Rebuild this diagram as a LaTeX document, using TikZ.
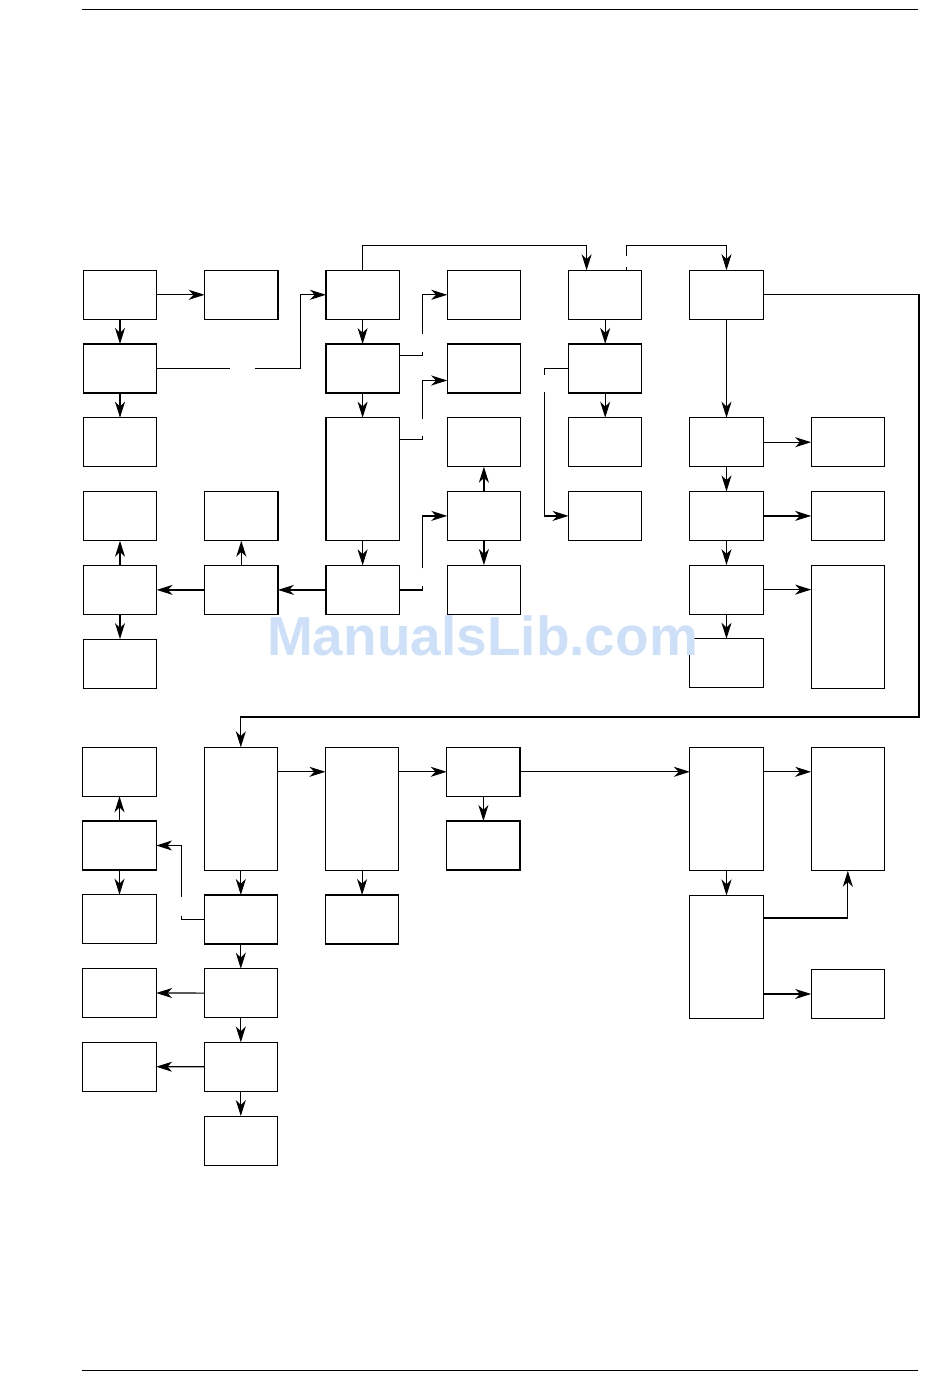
\documentclass[tikz,border=0pt]{standalone}
\usepackage{fontspec}
\newfontfamily\wmfont{Liberation Sans}
\usetikzlibrary{arrows.meta, calc, positioning}
\definecolor{wmblue}{RGB}{205,224,248}

\begin{document}
\begin{tikzpicture}[x=0.5pt, y=-0.5pt, node distance=12.35pt and 24pt,
    block/.style={rectangle, draw, line width=0.6pt, minimum width=36.65pt, minimum height=24.5pt, inner sep=0pt, outer sep=0pt},
    tallblock/.style={block, minimum height=61.5pt},
    link/.style={line width=0.6pt},
    arrow/.style={->, >={Stealth[length=8pt, width=5pt, inset=2.4pt]}, line width=0.6pt}]

    \useasboundingbox (0,0) rectangle (950,1379);

    % page rules
    \draw[link] (82,9.5) -- (918,9.5);
    \draw[link] (82,1370.5) -- (918,1370.5);

    % upper part
    \node[block] (b11) at (120,294.8) {};
    \node[block, right=of b11] (b12) {};
    \node[block, below=of b11] (b21) {};
    \node[block, below=of b21] (b31) {};
    \node[block, right=of b12] (b13) {};
    \node[block, below=of b13] (b23) {};
    \node[tallblock, below=of b23] (b33) {};
    \node[block, below=of b33] (b53) {};
    \node[block, left=of b53] (b52) {};
    \node[block, left=of b52] (b51) {};
    \node[block, above=of b52] (b42) {};
    \node[block, above=of b51] (b41) {};
    \node[block, below=of b51] (b61) {};
    \node[block, right=of b13] (b14) {};
    \node[block, below=of b14] (b24) {};
    \node[block, below=of b24] (b34) {};
    \node[block, below=of b34] (b44) {};
    \node[block, below=of b44] (b54) {};
    \node[block, right=of b14] (b15) {};
    \node[block, below=of b15] (b25) {};
    \node[block, below=of b25] (b35) {};
    \node[block, below=of b35] (b45) {};
    \node[block, right=of b15] (b16) {};
    \node[block, right=of b35] (b36) {};
    \node[block, below=of b36] (b46) {};
    \node[block, below=of b46] (b56) {};
    \node[block, below=of b56] (b66) {};
    \node[block, right=of b36] (b37) {};
    \node[block, right=of b46] (b47) {};
    \node[tallblock, below=of b47] (b57) {};

    % lower part
    \node[tallblock] (l12) at (240.8,808.8) {};
    \node[block, left=of l12.north west, anchor=north east] (l11) {};
    \node[block, below=of l11] (l21) {};
    \node[block, below=of l21] (l31) {};
    \node[block, below=of l31] (l41) {};
    \node[block, below=of l41] (l51) {};
    \node[block, below=of l12] (l32) {};
    \node[block, below=of l32] (l42) {};
    \node[block, below=of l42] (l52) {};
    \node[block, below=of l52] (l62) {};
    \node[tallblock, right=of l12] (l13) {};
    \node[block, below=of l13] (l33) {};
    \node[block, right=of l13.north east, anchor=north west] (l14) {};
    \node[block, below=of l14] (l24) {};
    \node[tallblock, below=30pt of b66] (l16) {};
    \node[tallblock, below=of l16] (l36) {};
    \node[tallblock, right=of l16] (l17) {};
    \node[block, right=of l36.south east, anchor=south west] (l47) {};

    % upper connectors
    \draw[arrow] (b11) -- (b12);
    \draw[arrow] (b11) -- (b21);
    \draw[arrow] (b21) -- (b31);
    \coordinate (g1) at ($(b21.east)+(73.5,0)$);
    \coordinate (g2) at ($(b21.east)+(98.5,0)$);
    \draw[link] (b21.east) -- (g1);
    \draw[arrow] (g2) -- ++(45,0) |- (b13.west);
    \draw[arrow] (b13) -- (b23);
    \draw[arrow] (b23) -- (b33);
    \draw[arrow] (b33) -- (b53);
    \draw[arrow] (b53) -- (b52);
    \draw[arrow] (b52) -- (b51);
    \draw[arrow] (b52) -- (b42);
    \draw[arrow] (b51) -- (b41);
    \draw[arrow] (b51) -- (b61);
    \draw[link] ($(b23.east)+(0,-13)$) -| ++(23,-3.5);
    \draw[arrow] ($(b23.east)+(23,-34.5)$) |- (b14.west);
    \draw[link] ($(b33.east)+(0,-39.5)$) -| ++(23,-3.5);
    \draw[arrow] ($(b33.east)+(23,-60.5)$) |- ([yshift=-6pt]b24.west);
    \draw[link] (b53.east) -| ++(23,-3.5);
    \draw[arrow] ($(b53.east)+(23,-21.5)$) |- (b44.west);
    \draw[arrow] (b44) -- (b34);
    \draw[arrow] (b44) -- (b54);
    \draw[arrow] (b13.north) -- ++(0,-24.5) -| ([xshift=-9.3pt]b15.north);
    \draw[link] ([xshift=10.7pt]b15.north) -- ++(0,-3.5);
    \draw[arrow] ($(b15.north)+(21.4,-14)$) -- ++(0,-10.5) -| (b16.north);
    \draw[arrow] (b15) -- (b25);
    \draw[arrow] (b25) -- (b35);
    \draw[link] (b25.west) -| ++(-24,6.5);
    \draw[arrow] ($(b25.west)+(-24,23.5)$) |- (b45.west);
    \draw[arrow] (b16) -- (b36);
    \draw[arrow] (b36) -- (b37);
    \draw[arrow] (b36) -- (b46);
    \draw[arrow] (b46) -- (b47);
    \draw[arrow] (b46) -- (b56);
    \draw[arrow] (b56.east) -- (b56.east -| b57.west);
    \draw[arrow] (b56) -- (b66);
    \coordinate (loop) at (919,717);
    \draw[arrow] (b16.east) -| (loop) -| (l12.north);

    % lower connectors
    \draw[arrow] (l12.east |- l14) -- (l13.west |- l14);
    \draw[arrow] (l13.east |- l14) -- (l14.west);
    \draw[arrow] (l14) -- (l14 -| l16.west);
    \draw[arrow] (l16.east |- l14) -- (l17.west |- l14);
    \draw[arrow] (l14) -- (l24);
    \draw[arrow] (l13) -- (l33);
    \draw[arrow] (l12) -- (l32);
    \draw[link] (l32.west) -| ++(-23,-4);
    \draw[arrow] ($(l32.west)+(-23,-22.5)$) |- (l21.east);
    \draw[arrow] (l21) -- (l11);
    \draw[arrow] (l21) -- (l31);
    \draw[arrow] (l32) -- (l42);
    \draw[arrow] (l42) -- (l41);
    \draw[arrow] (l42) -- (l52);
    \draw[arrow] (l52) -- (l51);
    \draw[arrow] (l52) -- (l62);
    \draw[arrow] (l16) -- (l36);
    \draw[arrow] ([yshift=19.5pt]l36.east) -| (l17.south);
    \draw[arrow] (l47.west -| l36.east) -- (l47.west);

    % watermark
    \node[anchor=base, inner sep=0pt, text=wmblue, font=\wmfont\bfseries\fontsize{27.5}{27.5}\selectfont] (wm) at (482.5,655) {ManualsLib.com};
\end{tikzpicture}
\end{document}
